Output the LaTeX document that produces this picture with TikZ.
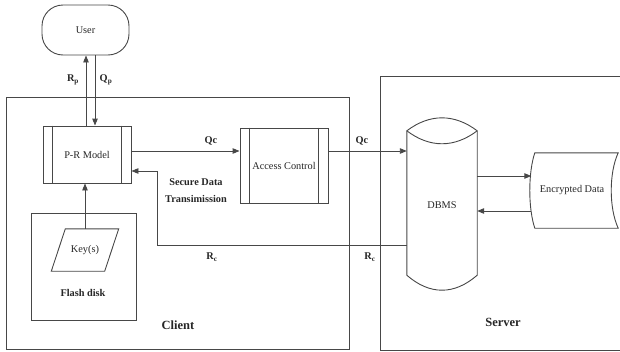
\documentclass[tikz,border=0pt]{standalone}
\usepackage{fontspec}
\setmainfont{Liberation Serif}
\usetikzlibrary{arrows.meta,calc}
\definecolor{linec}{gray}{0.28}
\definecolor{textc}{gray}{0.15}
\begin{document}
\begin{tikzpicture}[x=1pt,y=-1pt,
  every node/.style={font=\fontsize{10.3}{12}\selectfont, inner sep=0pt, text=textc},
  box/.style={draw=linec, line width=0.9pt},
  arr/.style={draw=linec, line width=0.9pt, -{Triangle[length=7pt,width=5.5pt]}},
  lbl/.style={font=\fontsize{10.3}{17}\selectfont\bfseries},
  big/.style={font=\fontsize{12.5}{14}\selectfont\bfseries}]
\useasboundingbox (0,0) rectangle (620,351);
\clip (0,0) rectangle (620,351);

% containers
\node[box, minimum width=343pt, minimum height=252pt] (client) at (177.5,223) {};
\node[box, minimum width=260pt, minimum height=274pt] (server) at (510,213) {};
\node[big] (clientlbl) at (178,325) {Client};
\node[big] (serverlbl) at (503,322) {Server};

% user
\node[box, rounded corners=21pt, minimum width=87pt, minimum height=50pt] (user) at (85.5,30) {User};

% P-R model and access control
\node[box, minimum width=88pt, minimum height=57pt] (prm) at (87,154.5) {P-R Model};
\node[box, minimum width=88pt, minimum height=75pt] (ac) at (284,165.5) {Access Control};
\foreach \n in {prm,ac}
  \draw[box] ([xshift=10pt]\n.north west) -- ([xshift=10pt]\n.south west)
             ([xshift=-10pt]\n.north east) -- ([xshift=-10pt]\n.south east);

% flash disk and key
\node[box, minimum width=105pt, minimum height=107pt] (flash) at (83.5,266.5) {};
\node[lbl] (flashlbl) at (83,293) {Flash disk};
\node[minimum width=53pt, minimum height=42pt] (key) at (85,250) {Key(s)};
\draw[box] ([xshift=7pt]key.north west) -- ([xshift=7pt]key.north east)
  -- ([xshift=-7pt]key.south east) -- ([xshift=-7pt]key.south west) -- cycle;

% DBMS cylinder
\node[minimum width=70pt, minimum height=144pt] (dbms) at (442,203) {};
\node (dbmslbl) at (442,205) {DBMS};
\draw[box] (dbms.north west) .. controls +(23,-17.3) and +(-23,-17.3) .. (dbms.north east)
  -- (dbms.south east) .. controls +(-23,20) and +(23,20) .. (dbms.south west) -- cycle;
\draw[box] (dbms.north west) .. controls +(23,17.3) and +(-23,17.3) .. (dbms.north east);

% encrypted data (stored data)
\node[minimum width=83pt, minimum height=75pt] (enc) at (576.5,190.5) {};
\node (enclbl) at (572,190) {Encrypted Data};
\draw[box] (enc.north west) .. controls +(-6.7,20) and +(-6.7,-20) .. (enc.south west)
  -- (enc.south east) .. controls +(-9.3,-20) and +(-9.3,20) .. (enc.north east) -- cycle;
\coordinate (encin) at ($(enc.west)+(-3.5,0)$);

% user <-> P-R model
\draw[arr] ([xshift=0.5pt]user.south |- prm.north) -- ([xshift=0.5pt]user.south);
\draw[arr] ([xshift=9.5pt]user.south) -- ([xshift=9.5pt]user.south |- prm.north);
\node[lbl] (rp) at (73,80) {R\textsubscript{p}};
\node[lbl] (qp) at (106,80) {Q\textsubscript{p}};

% key -> P-R model
\draw[arr] (key.north) -- (key.north |- prm.south);

% Qc
\draw[arr] ([yshift=3.5pt]prm.east) -- ([yshift=3.5pt]prm.east -| ac.west);
\node[lbl] (qc1) at (211,141) {Qc};
\draw[arr] ([yshift=3.5pt]prm.east -| ac.east) -- ([yshift=3.5pt]prm.east -| dbms.west);
\node[lbl] (qc2) at (362,141) {Qc};
\node[lbl, align=center] (sdt) at (196,191) {Secure Data\\Transimission};

% Rc
\coordinate (rbend) at (157,245);
\draw[arr] (dbms.west |- rbend) -- (rbend) |- ([yshift=-16.5pt]prm.east);
\node[lbl] (rc1) at (212,257) {R\textsubscript{c}};
\node[lbl] (rc2) at (370,257) {R\textsubscript{c}};

% DBMS <-> encrypted data
\draw[arr] ([yshift=27pt]dbms.east) -- ([yshift=27pt]dbms.east -| encin);
\draw[arr] ([yshift=-8pt]dbms.east -| encin) -- ([yshift=-8pt]dbms.east);
\end{tikzpicture}
\end{document}
